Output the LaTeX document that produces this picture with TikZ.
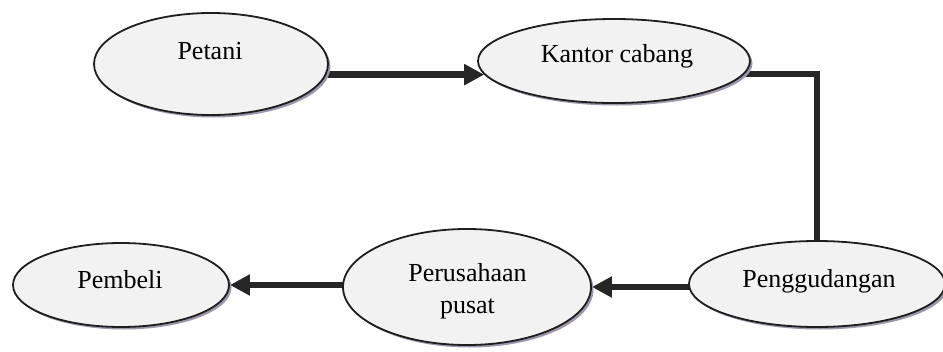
\documentclass[tikz,border=0pt]{standalone}
\usepackage{fontspec}
\setmainfont{Liberation Serif}
\usetikzlibrary{shapes.geometric,arrows.meta,shadows}
\pgfdeclarelayer{background}
\pgfsetlayers{background,main}
\definecolor{fillgray}{HTML}{F2F2F2}
\definecolor{edgecol}{HTML}{1E1E1E}
\definecolor{conncol}{HTML}{262626}
\definecolor{shadowcol}{RGB}{158,150,172}
\tikzset{
  ell/.style={ellipse, draw=edgecol, line width=1.8pt, fill=fillgray, inner sep=0pt,
    general shadow={fill=shadowcol, shadow xshift=2.5pt, shadow yshift=-2.5pt}},
  lbl/.style={inner sep=0pt, anchor=base, font=\fontsize{26}{31.6}\selectfont, align=center},
  conn/.style={draw=conncol, line width=6.5pt},
  arr/.style={conn, -{Triangle[length=20pt,width=20pt]}}
}
\begin{document}
\begin{tikzpicture}[x=1pt,y=-1pt]
\useasboundingbox (0,0) rectangle (943,351);
\node[ell, minimum width=234pt, minimum height=102pt] (petani) at (211,64) {};
\node[ell, minimum width=272pt, minimum height=84pt] (kantor) at (614,61) {};
\node[ell, minimum width=256pt, minimum height=86pt] (peng) at (817,284) {};
\node[ell, minimum width=248pt, minimum height=116pt] (perus) at (467,287) {};
\node[ell, minimum width=216pt, minimum height=84pt] (pemb) at (121,285) {};
\node[lbl] (petani-t) at (210,59.3) {Petani};
\node[lbl] (kantor-t) at (617,62.3) {Kantor cabang};
\node[lbl] (peng-t) at (819,287.3) {Penggudangan};
\node[lbl] (perus-t) at (467.5,313.3) {Perusahaan\\pusat};
\node[lbl] (pemb-t) at (120,288) {Pembeli};
\begin{pgfonlayer}{background}
\draw[arr] (petani.center |- kantor.186) -- (kantor.186);
\draw[conn] (kantor.center) ++(0,13) -| (peng.center);
\draw[arr] (peng.center |- perus.east) -- (perus.east);
\draw[arr] (perus.center |- pemb.east) -- (pemb.east);
\end{pgfonlayer}
\end{tikzpicture}
\end{document}
